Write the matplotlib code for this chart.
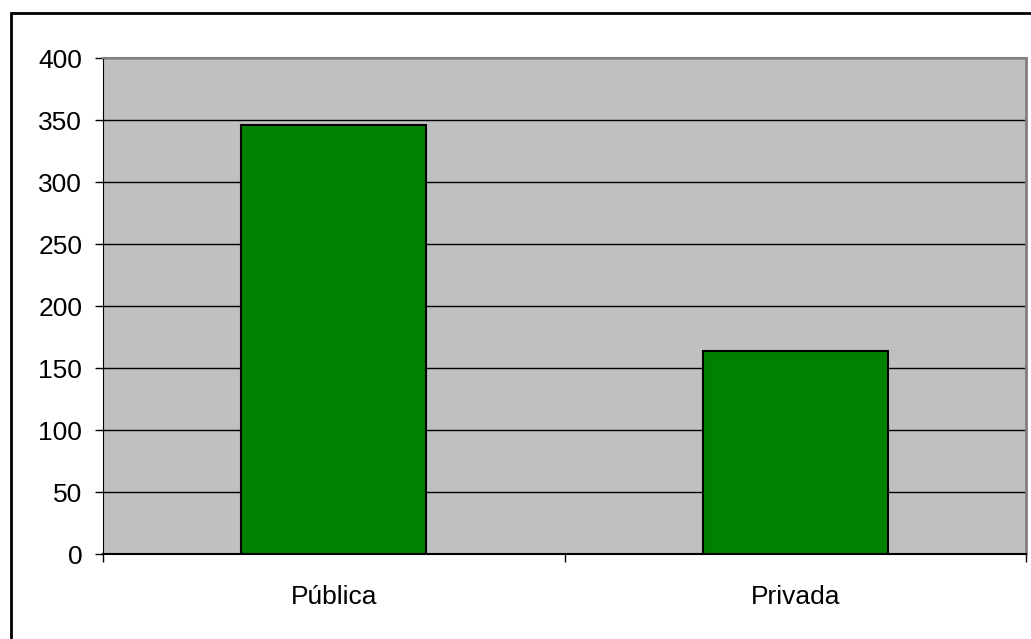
import matplotlib.pyplot as plt
from matplotlib.patches import Rectangle

plt.rcParams["font.family"] = ["Liberation Sans", "DejaVu Sans"]

categories = ["Pública", "Privada"]
values = [346, 164]
y_ticks = [0, 50, 100, 150, 200, 250, 300, 350, 400]

fig = plt.figure(figsize=(10.31, 6.39), dpi=100)
ax = fig.add_axes([103 / 1031, 1 - 554 / 639, 923 / 1031, 496 / 639])
ax.set_facecolor("#c0c0c0")

x = list(range(len(categories)))
ax.bar(x, values, width=0.4, color="#008000", edgecolor="black", linewidth=1.5, zorder=3)

ax.set_xlim(-0.5, len(categories) - 0.5)
ax.set_ylim(0, 400)
ax.set_yticks(y_ticks)
ax.set_yticklabels([str(v) for v in y_ticks], fontsize=19)
ax.yaxis.grid(True, color="black", linewidth=1, zorder=1)
ax.set_axisbelow(True)

ax.set_xticks(x)
ax.set_xticklabels(categories, fontsize=19)
ax.set_xticks([-0.5, 0.5, 1.5], minor=True)
ax.tick_params(axis="x", which="major", length=0, pad=22)
ax.tick_params(axis="x", which="minor", length=6, width=1, color="black", direction="out")
ax.tick_params(axis="y", length=6, width=1, color="black", pad=9)

ax.spines["left"].set_color("black")
ax.spines["bottom"].set_color("black")
ax.spines["bottom"].set_linewidth(1.5)
ax.spines["top"].set_color("#808080")
ax.spines["right"].set_color("#808080")
ax.spines["top"].set_linewidth(1.5)
ax.spines["right"].set_linewidth(2)

# outer chart-area frame
fig.patches.append(Rectangle((10.5 / 1031, -0.05), 1.2, 1 - 12.5 / 639 + 0.05,
                             transform=fig.transFigure, fill=False,
                             edgecolor="black", linewidth=2))

fig.savefig("out.png", dpi=100, facecolor="white")
